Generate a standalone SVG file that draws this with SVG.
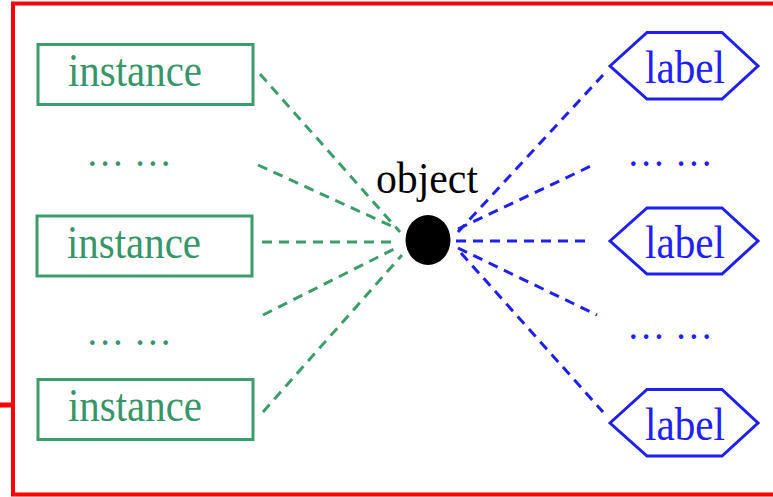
<svg xmlns="http://www.w3.org/2000/svg" width="773" height="497" viewBox="0 0 773 497">
<style>
.ibox{fill:#fff;stroke:#3c9c6c;stroke-width:3}
.itxt{font-family:"Liberation Serif",serif;font-size:47px;fill:#37956a}
.hex{fill:#fff;stroke:#1f1ff0;stroke-width:3;stroke-linejoin:miter}
.ltxt{font-family:"Liberation Serif",serif;font-size:46px;fill:#2020ff}
.gdots{font-family:"Liberation Serif",serif;font-size:40px;fill:#37956a}
.bdots{font-family:"Liberation Serif",serif;font-size:40px;fill:#2020ff}
.gl{stroke:#3c9c6c;stroke-width:3;stroke-dasharray:10 7;fill:none}
.bl{stroke:#1f1ff0;stroke-width:3;stroke-dasharray:10 7;fill:none}
</style>
<rect x="0" y="0" width="773" height="497" fill="#fff"/>
<g id="frame">
<rect x="13" y="3.5" width="800" height="491" fill="none" stroke="#ff0000" stroke-width="4"/>
<line x1="0" y1="405" x2="13" y2="405" stroke="#ff0000" stroke-width="5"/>
</g>
<g id="connectors">
<line class="gl" x1="260" y1="74" x2="400" y2="232"/>
<line class="gl" x1="258" y1="165" x2="398" y2="229"/>
<line class="gl" x1="262" y1="242" x2="398" y2="242"/>
<line class="gl" x1="263" y1="315" x2="398" y2="247"/>
<line class="gl" x1="263" y1="412" x2="402" y2="255"/>
<line class="bl" x1="458" y1="232" x2="603" y2="75"/>
<line class="bl" x1="458" y1="229" x2="593" y2="165"/>
<line class="bl" x1="456" y1="241" x2="590" y2="241"/>
<line class="bl" x1="458" y1="248" x2="597" y2="315"/>
<line class="bl" x1="461" y1="253" x2="603" y2="412"/>
</g>
<g id="instance1">
<rect class="ibox" x="38" y="44.5" width="215" height="60"/>
<text class="itxt" x="68" y="86" textLength="134" lengthAdjust="spacingAndGlyphs">instance</text>
</g>
<g id="dots1"><text class="gdots" x="86" y="166" textLength="86" lengthAdjust="spacingAndGlyphs">… …</text></g>
<g id="instance2">
<rect class="ibox" x="37" y="216" width="215" height="60"/>
<text class="itxt" x="67" y="258" textLength="134" lengthAdjust="spacingAndGlyphs">instance</text>
</g>
<g id="dots2"><text class="gdots" x="86" y="345" textLength="86" lengthAdjust="spacingAndGlyphs">… …</text></g>
<g id="instance3">
<rect class="ibox" x="38" y="379.5" width="215" height="60"/>
<text class="itxt" x="68" y="421" textLength="134" lengthAdjust="spacingAndGlyphs">instance</text>
</g>
<g id="object">
<ellipse cx="428" cy="240" rx="22.5" ry="25" fill="#000"/>
<text x="376" y="193" font-family="Liberation Serif, serif" font-size="44" fill="#000" textLength="102" lengthAdjust="spacingAndGlyphs">object</text>
</g>
<g id="label1">
<polygon class="hex" points="610,66 647,32.5 722,32.5 758,66 722,99 647,99"/>
<text class="ltxt" x="645" y="83" textLength="80" lengthAdjust="spacingAndGlyphs">label</text>
</g>
<g id="dots3"><text class="bdots" x="627" y="166" textLength="86" lengthAdjust="spacingAndGlyphs">… …</text></g>
<g id="label2">
<polygon class="hex" points="610,241 647,208 722,208 758,241 722,274 647,274"/>
<text class="ltxt" x="645" y="258" textLength="80" lengthAdjust="spacingAndGlyphs">label</text>
</g>
<g id="dots4"><text class="bdots" x="627" y="339" textLength="86" lengthAdjust="spacingAndGlyphs">… …</text></g>
<g id="label3">
<polygon class="hex" points="610,423 647,389.5 722,389.5 758,423 722,456 647,456"/>
<text class="ltxt" x="645" y="440" textLength="80" lengthAdjust="spacingAndGlyphs">label</text>
</g>
</svg>
